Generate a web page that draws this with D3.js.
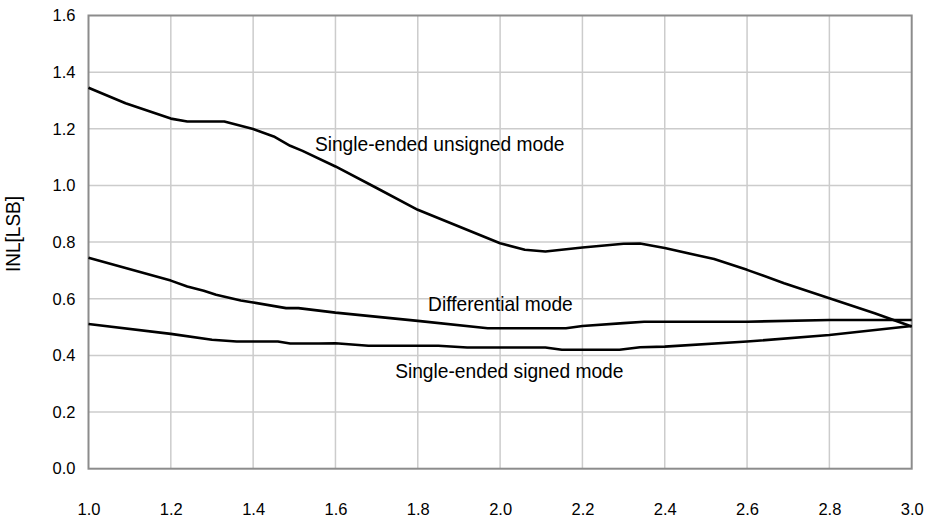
<!DOCTYPE html>
<html>
<head>
<meta charset="utf-8">
<script src="https://cdn.jsdelivr.net/npm/d3@7"></script>
<style>
html,body{margin:0;padding:0;background:#fff;}
svg{display:block;font-family:"Liberation Sans",Arial,sans-serif;}
</style>
</head>
<body>
<svg id="chart" width="929" height="521"></svg>
<script>
const xTicks = [1.0,1.2,1.4,1.6,1.8,2.0,2.2,2.4,2.6,2.8,3.0];
const yTicks = [0.0,0.2,0.4,0.6,0.8,1.0,1.2,1.4,1.6];
const yTitle = "INL[LSB]";

const unsignedX = [1.0,1.09,1.2,1.24,1.33,1.4,1.45,1.49,1.52,1.6,1.7,1.8,2.0,2.06,2.11,2.2,2.3,2.34,2.4,2.52,2.6,2.69,2.8,2.91,3.0];
const unsignedY = [1.345,1.29,1.236,1.226,1.226,1.199,1.173,1.14,1.122,1.067,0.991,0.914,0.796,0.773,0.767,0.781,0.794,0.795,0.779,0.74,0.702,0.655,0.602,0.549,0.502];

const diffX = [1.0,1.2,1.24,1.28,1.31,1.37,1.4,1.48,1.51,1.6,1.8,1.97,2.16,2.2,2.3,2.35,2.6,2.8,3.0];
const diffY = [0.745,0.664,0.643,0.628,0.614,0.594,0.587,0.567,0.567,0.551,0.522,0.496,0.496,0.504,0.514,0.519,0.519,0.525,0.525];

const signedX = [1.0,1.2,1.3,1.36,1.46,1.49,1.56,1.6,1.68,1.85,1.92,2.11,2.15,2.29,2.34,2.4,2.6,2.8,3.0];
const signedY = [0.511,0.476,0.455,0.449,0.449,0.442,0.442,0.443,0.434,0.434,0.428,0.428,0.42,0.42,0.429,0.431,0.449,0.472,0.504];

const seriesNames = ["Single-ended unsigned mode","Differential mode","Single-ended signed mode"];
const labelAt = [[1.55,1.12],[1.825,0.555],[1.745,0.32]];

const series = [
  {name: seriesNames[0], xs: unsignedX, ys: unsignedY},
  {name: seriesNames[1], xs: diffX, ys: diffY},
  {name: seriesNames[2], xs: signedX, ys: signedY}
];

const W = 929, H = 521;
const m = {left: 88.5, right: 17.3, top: 15.5, bottom: 52.3};
const svg = d3.select("#chart");

const x = d3.scaleLinear().domain([1.0,3.0]).range([m.left, W - m.right]);
const y = d3.scaleLinear().domain([0,1.6]).range([H - m.bottom, m.top]);

// gridlines
const g = svg.append("g");
g.selectAll("line.vg").data(xTicks.slice(1,-1)).enter().append("line")
  .attr("x1", d=>x(d)).attr("x2", d=>x(d)).attr("y1", y(0)).attr("y2", y(1.6))
  .attr("stroke","#cccccc").attr("stroke-width",1.5);
g.selectAll("line.hg").data(yTicks.slice(1,-1)).enter().append("line")
  .attr("x1", x(1)).attr("x2", x(3)).attr("y1", d=>y(d)).attr("y2", d=>y(d))
  .attr("stroke","#cccccc").attr("stroke-width",1.5);

// plot border
svg.append("rect").attr("x", x(1)).attr("y", y(1.6))
  .attr("width", x(3)-x(1)).attr("height", y(0)-y(1.6))
  .attr("fill","none").attr("stroke","#8c8c8c").attr("stroke-width",2);

// axes (labels only)
const xAxis = d3.axisBottom(x).tickValues(xTicks).tickFormat(d3.format(".1f")).tickSize(0).tickPadding(35);
const gx = svg.append("g").attr("transform", `translate(0,${y(0)})`).call(xAxis);
gx.select(".domain").remove();
gx.selectAll("text").attr("font-size","16.5px").attr("fill","#000").attr("font-family","Liberation Sans, Arial, sans-serif");

const yAxis = d3.axisLeft(y).tickValues(yTicks).tickFormat(d3.format(".1f")).tickSize(0).tickPadding(13);
const gy = svg.append("g").attr("transform", `translate(${x(1)},0)`).call(yAxis);
gy.select(".domain").remove();
gy.selectAll("text").attr("font-size","16.5px").attr("fill","#000").attr("font-family","Liberation Sans, Arial, sans-serif");

// y title
svg.append("text")
  .attr("transform", `translate(19.5,234) rotate(-90) scale(1,1.08)`)
  .attr("text-anchor","middle")
  .attr("font-size","19px").attr("fill","#000")
  .text(yTitle);

// lines
const line = d3.line().x(d=>x(d[0])).y(d=>y(d[1])).curve(d3.curveLinear);
series.forEach(s => {
  const pts = s.xs.map((v,i)=>[v, s.ys[i]]);
  svg.append("path").datum(pts).attr("d", line)
    .attr("fill","none").attr("stroke","#000").attr("stroke-width",2.6)
    .attr("stroke-linejoin","round");
});

// labels
series.forEach((s,i) => {
  svg.append("text")
    .attr("transform", `translate(${x(labelAt[i][0])},${y(labelAt[i][1])}) scale(1,1.08)`)
    .attr("font-size","19.2px").attr("fill","#000")
    .text(s.name);
});
</script>
</body>
</html>
